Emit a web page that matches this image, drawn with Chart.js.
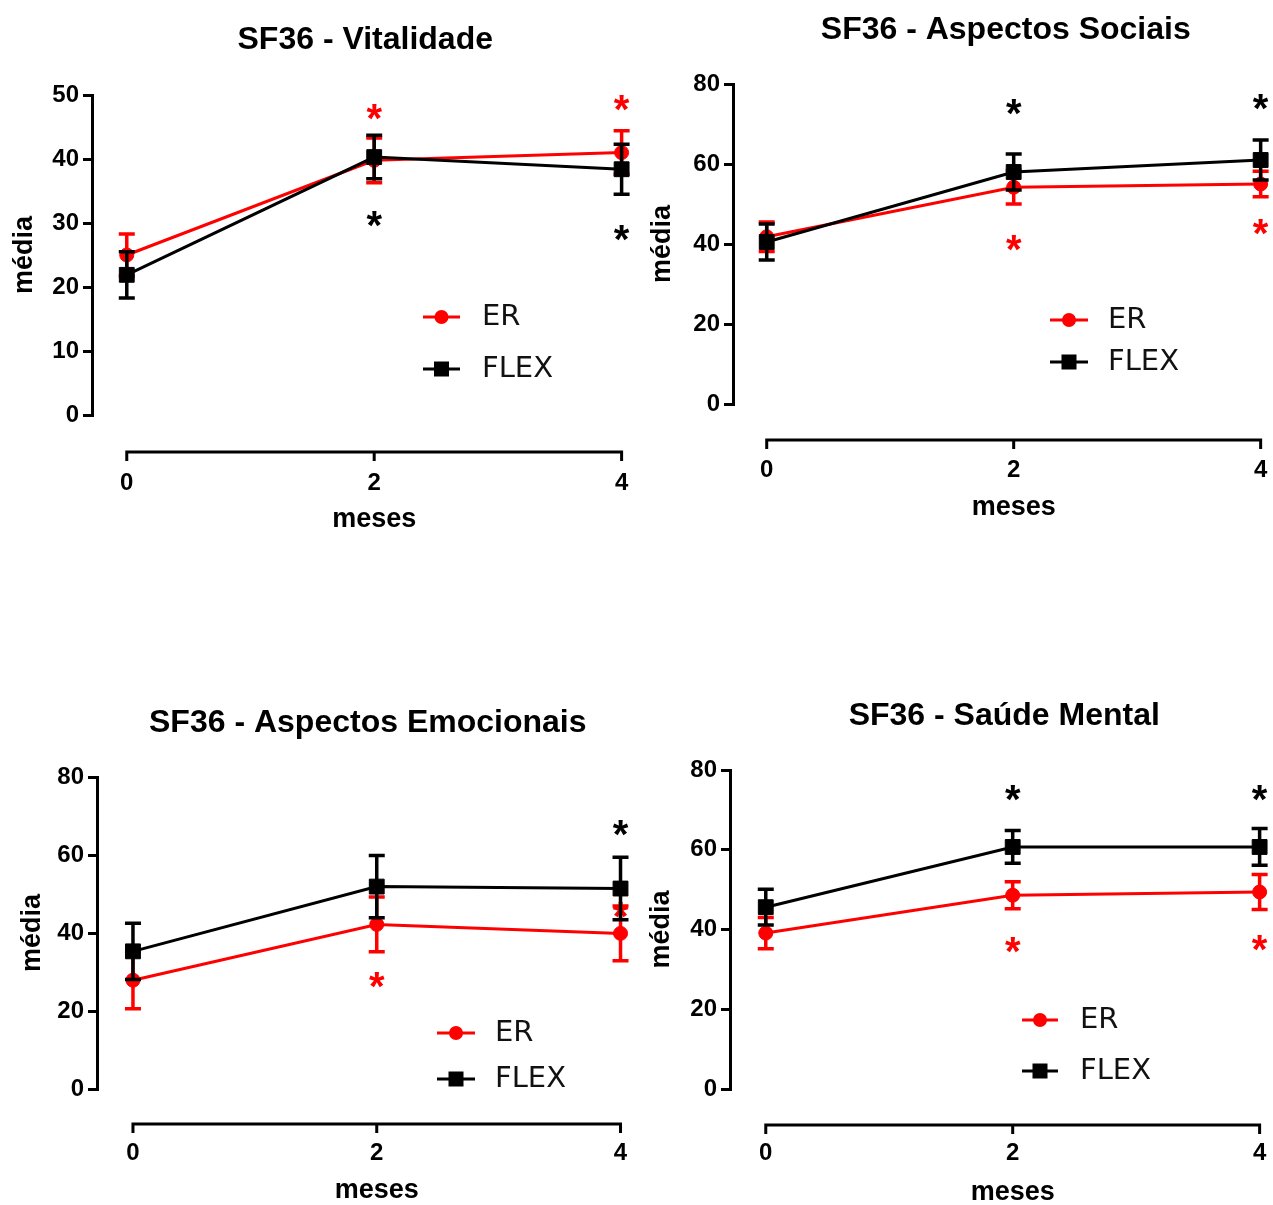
<!DOCTYPE html>
<html>
<head>
<meta charset="utf-8">
<script src="https://cdn.jsdelivr.net/npm/chart.js@4.4.1/dist/chart.umd.min.js"></script>
<style>
  html, body { margin: 0; padding: 0; background: #fff; overflow: hidden; width: 1273px; height: 1205px; }
  canvas { position: absolute; }
</style>
</head>
<body>
<canvas id="c1"></canvas>
<canvas id="c2"></canvas>
<canvas id="c3"></canvas>
<canvas id="c4"></canvas>
<script>
const meses = [0, 2, 4];
const seriesNames = ["ER", "FLEX"];

// SF36 - Vitalidade
const vitTicks = [0, 10, 20, 30, 40, 50];
const vitER = [25, 39.8, 41];
const vitERsem = [3.3, 3.5, 3.4];
const vitFLEX = [21.9, 40.3, 38.4];
const vitFLEXsem = [3.6, 3.4, 3.9];
const vitStarER = [null, 47.3, 48.8];
const vitStarFLEX = [null, 30.6, 28.4];

// SF36 - Aspectos Sociais
const socTicks = [0, 20, 40, 60, 80];
const socER = [41.8, 54.2, 55];
const socERsem = [3.7, 4.2, 3.2];
const socFLEX = [40.5, 58, 61];
const socFLEXsem = [4.5, 4.5, 5];
const socStarER = [null, 40.2, 44.3];
const socStarFLEX = [null, 74.3, 75.5];

// SF36 - Aspectos Emocionais
const emoTicks = [0, 20, 40, 60, 80];
const emoER = [27.9, 42.2, 39.9];
const emoERsem = [7.3, 7, 7];
const emoFLEX = [35.3, 51.9, 51.4];
const emoFLEXsem = [7.2, 8, 8];
const emoStarER = [null, 27.9, 45.8];
const emoStarFLEX = [null, null, 67];

// SF36 - Saúde Mental
const menTicks = [0, 20, 40, 60, 80];
const menER = [39.1, 48.6, 49.4];
const menERsem = [3.9, 3.4, 4.4];
const menFLEX = [45.6, 60.7, 60.7];
const menFLEXsem = [4.5, 4.1, 4.6];
const menStarER = [null, 36.1, 36.6];
const menStarFLEX = [null, 74.2, 74.2];

const RED = "#ff0000";
const BLACK = "#000000";
const ARIAL = '"Liberation Sans", Arial, sans-serif';

// error bars go under each series' own line, stars right after it
const errorBars = {
  id: "errorBars",
  beforeDatasetDraw(chart, args) {
    const ds = chart.data.datasets[args.index];
    const { ctx, scales: { x, y } } = chart;
    ctx.save();
    ctx.strokeStyle = ds.borderColor;
    ctx.lineWidth = 3.5;
    ds.data.forEach((p, i) => {
      const px = x.getPixelForValue(p.x);
      const top = y.getPixelForValue(p.y + ds.sem[i]);
      const bot = y.getPixelForValue(p.y - ds.sem[i]);
      ctx.beginPath();
      ctx.moveTo(px, top); ctx.lineTo(px, bot);
      ctx.moveTo(px - 8, top); ctx.lineTo(px + 8, top);
      ctx.moveTo(px - 8, bot); ctx.lineTo(px + 8, bot);
      ctx.stroke();
    });
    ctx.restore();
  },
  afterDatasetDraw(chart, args) {
    const ds = chart.data.datasets[args.index];
    const { ctx, scales: { x, y } } = chart;
    ctx.save();
    ctx.font = "bold 40px " + ARIAL;
    ctx.fillStyle = ds.borderColor;
    ctx.textAlign = "center";
    ctx.textBaseline = "alphabetic";
    const m = ctx.measureText("*");
    const shift = (m.actualBoundingBoxAscent - m.actualBoundingBoxDescent) / 2;
    ds.stars.forEach((v, i) => {
      if (v == null) return;
      ctx.fillText("*", x.getPixelForValue(ds.data[i].x), y.getPixelForValue(v) + shift);
    });
    ctx.restore();
  }
};

// detached x axis line with downward ticks, and its title centred under it
const bracketAxis = {
  id: "bracketAxis",
  afterDraw(chart, args, opts) {
    const { ctx, scales: { x } } = chart;
    const px = x.ticks.map(t => x.getPixelForValue(t.value));
    const first = px[0], last = px[px.length - 1];
    ctx.save();
    ctx.strokeStyle = BLACK;
    ctx.lineWidth = 3;
    ctx.beginPath();
    ctx.moveTo(first, opts.y);
    ctx.lineTo(last, opts.y);
    px.forEach(p => { ctx.moveTo(p, opts.y - 1.5); ctx.lineTo(p, opts.y + 9); });
    ctx.stroke();
    ctx.fillStyle = BLACK;
    ctx.font = "bold 27px " + ARIAL;
    ctx.textAlign = "center";
    ctx.textBaseline = "middle";
    ctx.fillText(opts.title, (first + last) / 2, opts.titleY);
    ctx.restore();
  }
};

const lineLegend = {
  id: "lineLegend",
  afterDraw(chart, args, opts) {
    const { ctx } = chart;
    ctx.save();
    chart.data.datasets.forEach((ds, i) => {
      const yy = opts.ys[i];
      ctx.strokeStyle = ds.borderColor;
      ctx.fillStyle = ds.borderColor;
      ctx.lineWidth = 3;
      ctx.beginPath();
      ctx.moveTo(opts.x1, yy); ctx.lineTo(opts.x2, yy);
      ctx.stroke();
      const mx = (opts.x1 + opts.x2) / 2;
      if (ds.pointStyle === "rect") {
        ctx.fillRect(mx - 7.5, yy - 7.5, 15, 15);
      } else {
        ctx.beginPath(); ctx.arc(mx, yy, 7, 0, Math.PI * 2); ctx.fill();
      }
      ctx.fillStyle = "#111";
      ctx.font = "29px \"DejaVu Sans\", sans-serif";
      ctx.textBaseline = "middle";
      ctx.fillText(ds.label, opts.textX, yy);
    });
    ctx.restore();
  }
};

function series(label, vals, sem, stars, color, style, order) {
  return {
    label: label,
    data: meses.map((m, i) => ({ x: m, y: vals[i] })),
    sem: sem,
    stars: stars,
    borderColor: color,
    backgroundColor: color,
    borderWidth: 3,
    pointStyle: style,
    pointRadius: style === "rect" ? 10.5 : 7,
    pointBackgroundColor: color,
    pointBorderColor: color,
    pointBorderWidth: 1,
    order: order
  };
}

function makeChart(id, g, title, yTicks, er, erSem, erStar, flex, flexSem, flexStar) {
  const cv = document.getElementById(id);
  cv.width = g.w; cv.height = g.h;
  cv.style.left = g.left + "px"; cv.style.top = g.top + "px";

  const right = 2 * g.titleX - g.areaLeft;
  const k = (g.x4 - g.x0) / 4;
  const titleSize = 32;
  const tlh = titleSize * 1.2;
  const tPadTop = g.titleY - g.top - tlh / 2;
  const tPadBottom = g.areaTop - g.top - tPadTop - tlh;
  const tickSize = 24;
  const yTitleSize = 27;

  return new Chart(cv, {
    type: "line",
    data: {
      datasets: [
        series(seriesNames[0], er, erSem, erStar, RED, "circle", 2),
        series(seriesNames[1], flex, flexSem, flexStar, BLACK, "rect", 1)
      ]
    },
    options: {
      responsive: false,
      animation: false,
      events: [],
      layout: { padding: { left: 0, top: 0, bottom: 0, right: g.left + g.w - right } },
      scales: {
        x: {
          type: "linear",
          min: (g.areaLeft - g.x0) / k,
          max: (right - g.x0) / k,
          afterBuildTicks: s => { s.ticks = meses.map(v => ({ value: v })); },
          afterFit: s => { s.height = g.top + g.h - g.areaBottom; },
          border: { display: false },
          grid: { display: true, drawOnChartArea: false, drawTicks: true, color: "rgba(0,0,0,0)",
                  tickLength: g.labelY - g.areaBottom - tickSize * 0.6 },
          ticks: { padding: 0, color: BLACK, font: { family: ARIAL, size: tickSize, weight: "bold" }, maxRotation: 0 },
          title: { display: false }
        },
        y: {
          min: yTicks[0],
          max: yTicks[yTicks.length - 1],
          afterBuildTicks: s => { s.ticks = yTicks.map(v => ({ value: v })); },
          afterFit: s => { s.width = g.areaLeft - g.left; },
          border: { display: true, color: BLACK, width: 3 },
          grid: { display: true, drawOnChartArea: false, drawTicks: true, color: BLACK, lineWidth: 3, tickLength: 9 },
          ticks: { padding: 4, color: BLACK, font: { family: ARIAL, size: tickSize, weight: "bold" } },
          title: { display: true, text: "média", color: BLACK,
                   font: { family: ARIAL, size: yTitleSize, weight: "bold" },
                   padding: { top: g.mediaX - g.left - yTitleSize * 0.6, bottom: 0 } }
        }
      },
      plugins: {
        legend: { display: false },
        tooltip: { enabled: false },
        title: {
          display: true, text: title, fullSize: false, color: BLACK,
          font: { family: ARIAL, size: titleSize, weight: "bold" },
          padding: { top: tPadTop, bottom: tPadBottom }
        },
        bracketAxis: { y: g.axisY - g.top, title: "meses", titleY: g.mesesY - g.top },
        lineLegend: {
          x1: g.legX1 - g.left, x2: g.legX2 - g.left,
          ys: g.legY.map(v => v - g.top), textX: g.legTextX - g.left
        }
      }
    },
    plugins: [errorBars, bracketAxis, lineLegend]
  });
}

makeChart("c1",
  { left: 0, top: 0, w: 650, h: 560, areaLeft: 92, areaTop: 95, areaBottom: 415, x0: 127, x4: 625,
    titleX: 367, titleY: 40, axisY: 452, labelY: 483, mesesY: 520, mediaX: 25,
    legX1: 423, legX2: 460, legY: [317, 369], legTextX: 482 },
  "SF36 - Vitalidade", vitTicks, vitER, vitERsem, vitStarER, vitFLEX, vitFLEXsem, vitStarFLEX);

makeChart("c2",
  { left: 640, top: 0, w: 650, h: 560, areaLeft: 733, areaTop: 84, areaBottom: 404, x0: 767, x4: 1265,
    titleX: 1008, titleY: 30, axisY: 440, labelY: 470, mesesY: 508, mediaX: 663,
    legX1: 1050, legX2: 1088, legY: [320, 362], legTextX: 1108 },
  "SF36 - Aspectos Sociais", socTicks, socER, socERsem, socStarER, socFLEX, socFLEXsem, socStarFLEX);

makeChart("c3",
  { left: 0, top: 600, w: 650, h: 605, areaLeft: 97, areaTop: 777, areaBottom: 1089, x0: 133, x4: 621,
    titleX: 368, titleY: 723, axisY: 1124, labelY: 1153, mesesY: 1191, mediaX: 33,
    legX1: 437, legX2: 475, legY: [1033, 1079], legTextX: 495 },
  "SF36 - Aspectos Emocionais", emoTicks, emoER, emoERsem, emoStarER, emoFLEX, emoFLEXsem, emoStarFLEX);

makeChart("c4",
  { left: 640, top: 600, w: 650, h: 605, areaLeft: 730, areaTop: 770, areaBottom: 1089, x0: 766, x4: 1263,
    titleX: 1006, titleY: 716, axisY: 1125, labelY: 1153, mesesY: 1193, mediaX: 662,
    legX1: 1022, legX2: 1058, legY: [1020, 1071], legTextX: 1080 },
  "SF36 - Saúde Mental", menTicks, menER, menERsem, menStarER, menFLEX, menFLEXsem, menStarFLEX);
</script>
</body>
</html>
